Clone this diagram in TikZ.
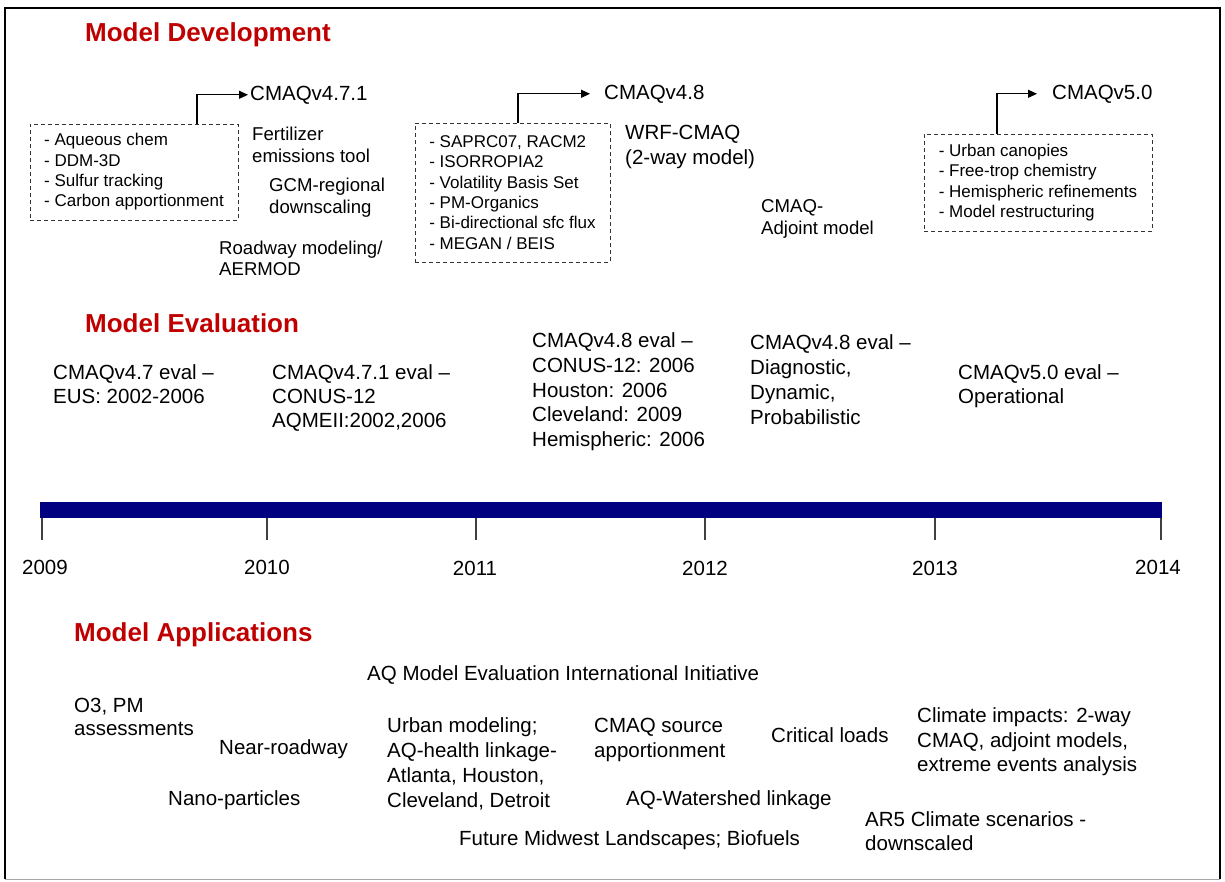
\documentclass[tikz,border=0pt]{standalone}
\usepackage{fontspec}
\setmainfont{Liberation Sans}
\usetikzlibrary{arrows.meta}
\definecolor{titlered}{RGB}{192,0,0}
\definecolor{barblue}{RGB}{0,0,128}
\newcommand{\fsz}[2]{\fontsize{#1}{#2}\selectfont}
\begin{document}
\begin{tikzpicture}[x=1pt,y=-1pt,
  lbl/.style={anchor=base west, inner sep=0pt, align=left, font=\fsz{20.5}{24.5}},
  lbls/.style={anchor=base west, inner sep=0pt, align=left, font=\fsz{18.6}{22}},
  ttl/.style={anchor=base west, inner sep=0pt, text=titlered, font=\fsz{26}{30}\bfseries},
  dbox/.style={draw=black!80, dash pattern=on 4pt off 3pt, line width=0.9pt, inner sep=0pt, align=left, font=\fsz{17}{20.4}},
  arr/.style={-{Triangle[length=9pt,width=8pt]}, line width=1.1pt},
  yr/.style={anchor=base, inner sep=0pt, font=\fsz{20.5}{24.5}},
  tick/.style={line width=1.2pt, draw=black!75},
  frame/.style={line width=2.5pt, draw=black}
]
\useasboundingbox (0,0) rectangle (1225,881);
\fill[white] (0,0) rectangle (1225,881);
% outer frame
\draw[frame] (5,879) -- (5,8) -- (1220,8) -- (1220,879);
\draw[black!35, line width=1pt] (5,879) -- (1220,879);

% ---------- Model Development ----------
\node[ttl] (tdev) at (85,41) {Model Development};

\node[dbox, minimum width=208pt, minimum height=96pt] (box1) at (134,172)
  {- Aqueous chem\\- DDM-3D\\- Sulfur tracking\\- Carbon apportionment};
\node[dbox, minimum width=195pt, minimum height=139pt] (box2) at (512.5,192.5)
  {- SAPRC07, RACM2\\- ISORROPIA2\\- Volatility Basis Set\\- PM-Organics\\- Bi-directional sfc flux\\- MEGAN / BEIS};
\node[dbox, minimum width=228pt, minimum height=97pt] (box3) at (1038,182.5)
  {- Urban canopies\\- Free-trop chemistry\\- Hemispheric refinements\\- Model restructuring};

\node[lbl] (v471) at (250,100) {CMAQv4.7.1};
\node[lbl] (v48) at (604,99) {CMAQv4.8};
\node[lbl] (v50) at (1052,99) {CMAQv5.0};

\draw[arr, shorten >=2pt] ([xshift=63pt]box1.north) |- (v471.west);
\draw[arr, shorten >=14pt] ([xshift=5.5pt]box2.north) |- (v48.west);
\draw[arr, shorten >=15pt] ([xshift=-41pt]box3.north) |- (v50.west);

% (anchor base = baseline of the last line)
\node[lbls] (fert) at (252,162) {Fertilizer\\emissions tool};
\node[lbls] (gcm) at (269,213) {GCM-regional\\downscaling};
\node[lbls, font=\fsz{18.6}{21}] (road) at (219,275) {Roadway modeling/\\AERMOD};
\node[lbl, font=\fsz{20.5}{25}] (wrf) at (625,164.5) {WRF-CMAQ\\(2-way model)};
\node[lbls] (adj) at (761,234) {CMAQ-\\Adjoint model};

% ---------- Model Evaluation ----------
\node[ttl] (teval) at (85,332) {Model Evaluation};
\node[lbl, font=\fsz{20.5}{24}] (e1) at (53,403.5) {CMAQv4.7 eval --\\EUS: 2002-2006};
\node[lbl, font=\fsz{20.5}{24}] (e2) at (272,427.5) {CMAQv4.7.1 eval --\\CONUS-12\\AQMEII:2002,2006};
\node[lbl, font=\fsz{20.5}{24.75}] (e3) at (532,446.5) {CMAQv4.8 eval --\\CONUS-12: 2006\\Houston: 2006\\Cleveland: 2009\\Hemispheric: 2006};
\node[lbl, font=\fsz{20.5}{25}] (e4) at (750,424.5) {CMAQv4.8 eval --\\Diagnostic,\\Dynamic,\\Probabilistic};
\node[lbl, font=\fsz{20.5}{24}] (e5) at (958,403.5) {CMAQv5.0 eval --\\Operational};

% ---------- Timeline ----------
\node[fill=barblue, draw=none, inner sep=0pt, minimum width=1122pt, minimum height=16pt] (bar) at (601,510) {};
\coordinate (t0) at (42,540);
\coordinate (t1) at (267,540);
\coordinate (t2) at (476,540);
\coordinate (t3) at (705,540);
\coordinate (t4) at (935,540);
\coordinate (t5) at (1161,540);
\foreach \t in {t0,t1,t2,t3,t4,t5} {\draw[tick] (\t) -- (\t |- bar.south);}
\node[yr] (y2009) at (45,574.5) {2009};
\node[yr] (y2010) at (267,574.5) {2010};
\node[yr] (y2011) at (475,575) {2011};
\node[yr] (y2012) at (705,575) {2012};
\node[yr] (y2013) at (935,575) {2013};
\node[yr] (y2014) at (1158,574.5) {2014};

% ---------- Model Applications ----------
\node[ttl] (tapp) at (74,641) {Model Applications};
\node[lbl] (aqm) at (367,680.5) {AQ Model Evaluation International Initiative};
\node[lbl, font=\fsz{20.5}{23}] (o3) at (74,735.5) {O3, PM\\assessments};
\node[lbl] (near) at (219,754.5) {Near-roadway};
\node[lbl] (nano) at (168,805.5) {Nano-particles};
\node[lbl, font=\fsz{20.5}{25}] (urban) at (387,807.5) {Urban modeling;\\AQ-health linkage-\\Atlanta, Houston,\\Cleveland, Detroit};
\node[lbl, font=\fsz{20.5}{25}] (src) at (594,757.5) {CMAQ source\\apportionment};
\node[lbl] (crit) at (771,742.5) {Critical loads};
\node[lbl] (water) at (626,805.5) {AQ-Watershed linkage};
\node[lbl] (future) at (459,845.5) {Future Midwest Landscapes; Biofuels};
\node[lbl] (clim) at (917,771.5) {Climate impacts: 2-way\\CMAQ, adjoint models,\\extreme events analysis};
\node[lbl, font=\fsz{20.5}{24}] (ar5) at (865,850.5) {AR5 Climate scenarios -\\downscaled};
\end{tikzpicture}
\end{document}
